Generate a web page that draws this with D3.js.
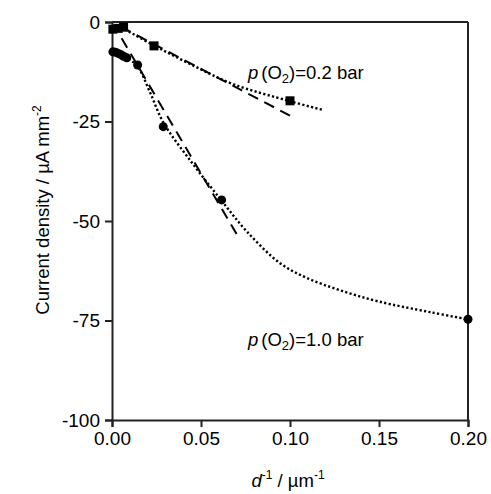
<!DOCTYPE html>
<html>
<head>
<meta charset="utf-8">
<script src="https://cdn.jsdelivr.net/npm/d3@7"></script>
<style>
  body { margin: 0; background: #fff; }
  svg { font-family: "Liberation Sans", Arial, sans-serif; }
</style>
</head>
<body>
<svg width="491" height="494"></svg>
<script>
// measured points, p(O2)=1.0 bar (circles)
var circX = [0.0005, 0.002, 0.0035, 0.005, 0.0065, 0.0083, 0.0144, 0.0288, 0.0616, 0.2];
var circY = [-7.5, -7.6, -7.9, -8.2, -8.6, -9.0, -10.8, -26.3, -44.7, -74.7];

// measured points, p(O2)=0.2 bar (squares)
var sqX = [0.0005, 0.0035, 0.0065, 0.0236, 0.1];
var sqY = [-1.8, -1.6, -1.3, -6.0, -19.8];

// fitted curves (dotted)
var fit1X = [0, 0.0083, 0.0144, 0.0213, 0.0288, 0.0448, 0.0616, 0.0757, 0.0944, 0.1094, 0.1281, 0.1496, 0.1787, 0.2];
var fit1Y = [-7.5, -9.0, -11.2, -17.6, -25.2, -35.3, -44.9, -52.6, -60.6, -64.3, -67.4, -70.2, -72.9, -74.7];
var fit02X = [0.005, 0.0236, 0.045, 0.068, 0.1, 0.1185];
var fit02Y = [-1.3, -5.9, -10.8, -15.6, -19.9, -22.1];

// initial slopes (dashed)
var lin1X = [0.0054, 0.072];
var lin1Y = [-4.1, -54.8];
var lin02X = [0.005, 0.102];
var lin02Y = [-1.2, -24.0];

var xTicks = [0, 0.05, 0.1, 0.15, 0.2];
var yTicks = [0, -25, -50, -75, -100];

var svg = d3.select("svg");

var x = d3.scaleLinear().domain([0, 0.2]).range([112, 468]),
    y = d3.scaleLinear().domain([-100, 0]).range([420, 22]);

function pts(xs, ys) {
  return xs.map(function(d, i) { return [d, ys[i]]; });
}

var line = d3.line()
    .x(function(d) { return x(d[0]); })
    .y(function(d) { return y(d[1]); });

var smooth = d3.line()
    .x(function(d) { return x(d[0]); })
    .y(function(d) { return y(d[1]); })
    .curve(d3.curveCatmullRom.alpha(0.5));

// frame
svg.append("line").attr("x1", x(0)).attr("x2", x(0.2)).attr("y1", y(0)).attr("y2", y(0))
    .attr("stroke", "#222").attr("stroke-width", 2);
svg.append("line").attr("x1", x(0.2)).attr("x2", x(0.2)).attr("y1", y(0)).attr("y2", y(-100))
    .attr("stroke", "#222").attr("stroke-width", 2);

var xAxis = svg.append("g")
    .attr("transform", "translate(0," + y(-100) + ")")
    .call(d3.axisBottom(x).tickValues(xTicks).tickFormat(d3.format(".2f")).tickSize(7).tickPadding(5));

var yAxis = svg.append("g")
    .attr("transform", "translate(" + x(0) + ",0)")
    .call(d3.axisLeft(y).tickValues(yTicks).tickFormat(function(d) { return String(d); }).tickSize(7).tickPadding(5));

[xAxis, yAxis].forEach(function(a) {
  a.select(".domain").attr("stroke", "#222").attr("stroke-width", 2);
  a.selectAll(".tick line").attr("stroke", "#222").attr("stroke-width", 2);
  a.selectAll(".tick text").attr("fill", "#000").style("font-size", "19px")
    .style("font-family", "Liberation Sans, Arial, sans-serif");
});

// lines
svg.append("path").attr("d", smooth(pts(fit1X, fit1Y)))
    .attr("fill", "none").attr("stroke", "#000").attr("stroke-width", 2.4).attr("stroke-dasharray", "2.2,2.3");
svg.append("path").attr("d", smooth(pts(fit02X, fit02Y)))
    .attr("fill", "none").attr("stroke", "#000").attr("stroke-width", 2.4).attr("stroke-dasharray", "2.2,2.3");
svg.append("path").attr("d", line(pts(lin1X, lin1Y)))
    .attr("fill", "none").attr("stroke", "#000").attr("stroke-width", 2).attr("stroke-dasharray", "11,7");
svg.append("path").attr("d", line(pts(lin02X, lin02Y)))
    .attr("fill", "none").attr("stroke", "#000").attr("stroke-width", 2).attr("stroke-dasharray", "11,7");

// markers
svg.append("g").selectAll("circle")
    .data(pts(circX, circY))
  .enter().append("circle")
    .attr("cx", function(d) { return x(d[0]); })
    .attr("cy", function(d) { return y(d[1]); })
    .attr("r", 4.5)
    .attr("fill", "#000");

svg.append("g").selectAll("rect")
    .data(pts(sqX, sqY))
  .enter().append("rect")
    .attr("x", function(d) { return x(d[0]) - 4.5; })
    .attr("y", function(d) { return y(d[1]) - 4.5; })
    .attr("width", 9).attr("height", 9)
    .attr("fill", "#000");

// annotations
function label(tx, ty, val) {
  var t = svg.append("text").attr("x", tx).attr("y", ty).style("font-size", "18.5px");
  t.append("tspan").style("font-style", "italic").text("p");
  t.append("tspan").attr("dx", 3).text("(O");
  t.append("tspan").attr("dy", 4).style("font-size", "13px").text("2");
  t.append("tspan").attr("dy", -4).text(")=" + val + " bar");
}
label(248, 79, "0.2");
label(248, 346, "1.0");

// axis titles
var xt = svg.append("text").attr("x", 288).attr("y", 487).attr("text-anchor", "middle").style("font-size", "18.5px");
xt.append("tspan").style("font-style", "italic").text("d");
xt.append("tspan").attr("dy", -8).style("font-size", "12px").text("-1");
xt.append("tspan").attr("dy", 8).text(" / µm");
xt.append("tspan").attr("dy", -8).style("font-size", "12px").text("-1");

var yt = svg.append("text").attr("transform", "translate(49,210) rotate(-90)")
    .attr("text-anchor", "middle").style("font-size", "18.5px");
yt.append("tspan").text("Current density / µA mm");
yt.append("tspan").attr("dy", -8).style("font-size", "12px").text("-2");
</script>
</body>
</html>
